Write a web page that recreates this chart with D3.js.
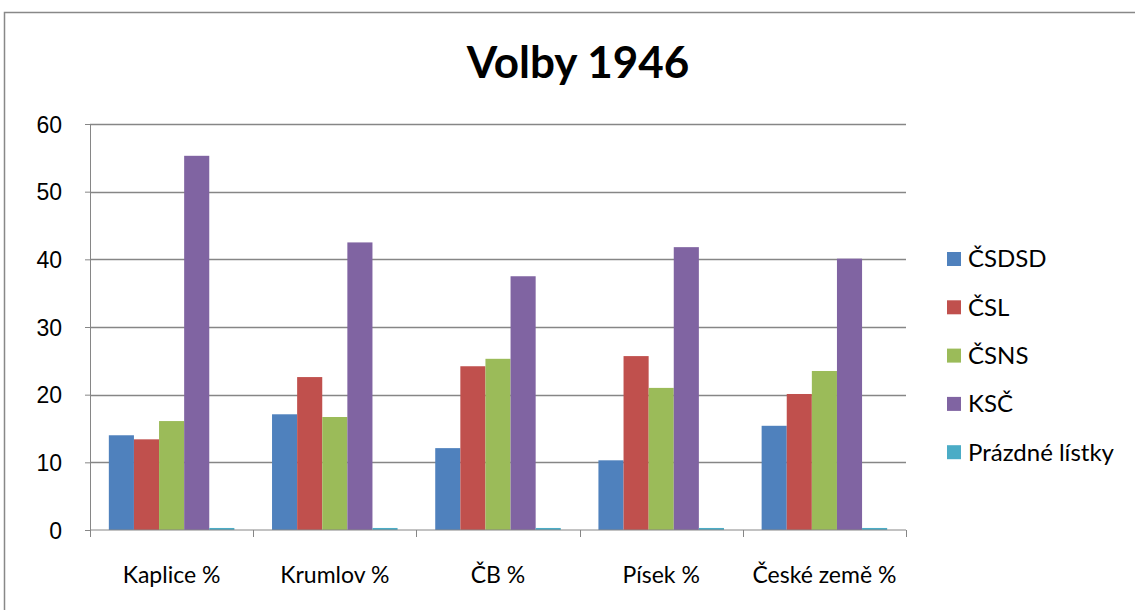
<!DOCTYPE html>
<html>
<head>
<meta charset="utf-8">
<script src="https://cdn.jsdelivr.net/npm/d3@7"></script>
<style>
  body { margin: 0; background: #fff; }
  svg { display: block; font-family: Lato, "Open Sans", sans-serif; }
  .axis path, .axis line { stroke: #868686; }
  .axis text { font-size: 23px; fill: #000; }
</style>
</head>
<body>
<svg class="js-d3-container" width="1135" height="610"></svg>
<script>
// categories and series
const categories = ['Kaplice %', 'Krumlov %', 'ČB %', 'Písek %', 'České země %'];
const parties = ['ČSDSD', 'ČSL', 'ČSNS', 'KSČ', 'Prázdné lístky'];
const colors = ['#4F81BD', '#C0504D', '#9BBB59', '#8064A2', '#4BACC6'];

// values per party, one per category
const csdsd = [14.0, 17.1, 12.1, 10.3, 15.4];
const csl = [13.4, 22.6, 24.2, 25.7, 20.1];
const csns = [16.1, 16.7, 25.3, 21.0, 23.5];
const ksc = [55.3, 42.5, 37.5, 41.8, 40.1];
const prazdne = [0.3, 0.3, 0.3, 0.3, 0.3];
const seriesValues = [csdsd, csl, csns, ksc, prazdne];

const yTicks = [0, 10, 20, 30, 40, 50, 60];

const svg = d3.select('.js-d3-container');

// outer chart frame
svg.append('rect')
    .attr('x', 4.5).attr('y', 12.5)
    .attr('width', 1140).attr('height', 610)
    .attr('fill', 'none')
    .attr('stroke', '#888')
    .attr('stroke-width', 1.5);

const margin = {top: 124, left: 90};
const width = 816;
const height = 406;

const g = svg.append('g')
    .attr('transform', `translate(${margin.left},${margin.top})`);

const x = d3.scaleBand()
    .domain(categories)
    .range([0, width]);

const x1 = d3.scaleBand()
    .domain(parties)
    .range([0, x.bandwidth()])
    .paddingOuter(0.75);

const y = d3.scaleLinear()
    .domain([0, 60])
    .range([height, 0]);

// gridlines
g.append('g')
    .selectAll('line')
    .data(yTicks.filter(d => d > 0))
    .enter().append('line')
    .attr('x1', 0).attr('x2', width)
    .attr('y1', d => Math.round(y(d)) + 0.5)
    .attr('y2', d => Math.round(y(d)) + 0.5)
    .attr('stroke', '#868686')
    .attr('stroke-width', 1.3);

// bars
const groups = g.selectAll('.cat')
    .data(categories)
    .enter().append('g')
    .attr('transform', d => `translate(${x(d)},0)`);

groups.selectAll('rect')
    .data((c, ci) => parties.map((p, pi) => ({party: p, value: seriesValues[pi][ci], color: colors[pi]})))
    .enter().append('rect')
    .attr('x', d => x1(d.party))
    .attr('width', x1.bandwidth())
    .attr('y', d => y(d.value))
    .attr('height', d => y(0) - y(d.value))
    .attr('fill', d => d.color);

// y axis
g.append('g')
    .attr('class', 'axis')
    .call(d3.axisLeft(y).tickValues(yTicks).tickSize(5).tickPadding(23).tickSizeOuter(0))
    .call(a => a.selectAll('text').attr('dy', '0.35em'));

// x axis with ticks between categories
const xAxis = g.append('g')
    .attr('class', 'axis')
    .attr('transform', `translate(0,${height})`);
xAxis.append('line')
    .attr('x1', 0).attr('x2', width)
    .attr('stroke', '#868686');
xAxis.selectAll('.tk')
    .data(d3.range(categories.length + 1))
    .enter().append('line')
    .attr('x1', i => Math.round(i * x.bandwidth()) + 0.5)
    .attr('x2', i => Math.round(i * x.bandwidth()) + 0.5)
    .attr('y1', 0).attr('y2', 7)
    .attr('stroke', '#868686');
xAxis.selectAll('text')
    .data(categories)
    .enter().append('text')
    .attr('x', d => x(d) + x.bandwidth() / 2)
    .attr('y', 53)
    .attr('text-anchor', 'middle')
    .text(d => d);

// title
svg.append('text')
    .attr('x', 578)
    .attr('y', 78)
    .attr('text-anchor', 'middle')
    .style('font-size', '44px')
    .style('font-weight', 'bold')
    .text('Volby 1946');

// legend
const legend = svg.append('g')
    .selectAll('g')
    .data(parties)
    .enter().append('g')
    .attr('transform', (d, i) => `translate(947,${259 + i * 48.3})`);

legend.append('rect')
    .attr('x', 0).attr('y', -7)
    .attr('width', 14).attr('height', 14)
    .attr('fill', (d, i) => colors[i]);

legend.append('text')
    .attr('x', 21)
    .attr('dy', '0.35em')
    .style('font-size', '24px')
    .text(d => d);
</script>
</body>
</html>
